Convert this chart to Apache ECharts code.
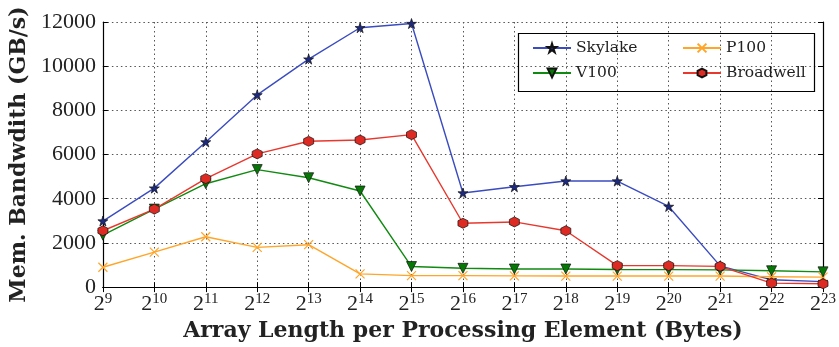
<!DOCTYPE html>
<html>
<head>
<meta charset="utf-8">
<script src="https://cdn.jsdelivr.net/npm/echarts@6/dist/echarts.min.js"></script>
<style>html,body{margin:0;padding:0;background:#fff;}#c{width:839px;height:347px;}
.pre{position:absolute;left:-9999px;top:0;}</style>
</head>
<body>
<span class="pre" style="font-family:'DejaVu Serif';font-size:16px">Skylake V100 P100 Broadwell</span>
<span class="pre" style="font-family:'DejaVu Serif';font-weight:bold;font-size:22px">Array Mem</span>
<span class="pre" style="font-family:'Liberation Serif';font-size:22px">0123456789</span>
<div id="c"></div>
<script>
const exponents = ['9','10','11','12','13','14','15','16','17','18','19','20','21','22','23'];
const skylake   = [2990, 4480, 6570, 8700, 10320, 11740, 11930, 4260, 4540, 4800, 4800, 3650, 960, 330, 250];
const v100      = [2350, 3530, 4680, 5320, 4950, 4350, 930, 850, 820, 820, 800, 790, 780, 740, 690];
const p100      = [900, 1580, 2280, 1800, 1920, 600, 520, 520, 510, 500, 500, 500, 500, 470, 450];
const broadwell = [2550, 3530, 4910, 6030, 6600, 6660, 6900, 2890, 2950, 2550, 970, 970, 940, 180, 150];
const yTicks = { min: 0, max: 12000, interval: 2000 };

const FONT = 'Liberation Serif';
const TFONT = 'DejaVu Serif';
const STAR = 'path://M50,0 L61.8,35 L98,35 L68.5,57 L79.4,92 L50,70 L20.6,92 L31.5,57 L2,35 L38.2,35 Z';
const HEX = 'path://M50,0 L93.3,25 L93.3,75 L50,100 L6.7,75 L6.7,25 Z';
const XMARK = 'path://M0,0 L10,10 M10,0 L0,10';

const chart = echarts.init(document.getElementById('c'), null, {renderer: 'canvas'});

function mk(name, data, lineColor, markColor, symbol, size, extra) {
  return Object.assign({
    name: name, type: 'line', data: data, xAxisIndex: 0, yAxisIndex: 0,
    symbol: symbol, symbolSize: size, showAllSymbol: true,
    lineStyle: {color: lineColor, width: 1.4},
    itemStyle: {color: markColor, borderColor: '#111', borderWidth: 0.7},
    emphasis: {disabled: true}, animation: false, z: 3
  }, extra || {});
}

const legendText = {fontFamily: TFONT, fontSize: 15.5, color: '#222'};

const option = {
  backgroundColor: '#fff',
  animation: false,
  textStyle: {fontFamily: FONT},
  grid: {left: 98, right: 16, top: 22, bottom: 59, show: false},
  legend: [
    {
      data: ['Skylake', 'V100'], orient: 'vertical', left: 527, top: 35,
      itemWidth: 38, itemHeight: 11, itemGap: 9,
      textStyle: legendText
    },
    {
      data: ['P100', 'Broadwell'], orient: 'vertical', left: 677, top: 35,
      itemWidth: 38, itemHeight: 11, itemGap: 9,
      textStyle: legendText
    }
  ],
  graphic: [{
    type: 'rect', left: 516, top: 31, z: 100, silent: true,
    shape: {width: 296, height: 58},
    style: {fill: 'none', stroke: '#000', lineWidth: 1.2}
  }],
  xAxis: [
    {
      type: 'category', data: exponents, boundaryGap: false,
      name: 'Array Length per Processing Element (Bytes)', nameLocation: 'middle', nameGap: 31,
      nameTextStyle: {fontFamily: TFONT, fontWeight: 'bold', fontSize: 22, color: '#222'},
      axisLine: {lineStyle: {color: '#000', width: 1.2}},
      axisTick: {inside: true, length: 5, alignWithLabel: true, lineStyle: {color: '#000'}},
      axisLabel: {
        margin: 4, interval: 0,
        formatter: v => '{b|2}{s|' + v + '}',
        rich: {
          b: {fontFamily: FONT, fontSize: 22, color: '#222'},
          s: {fontFamily: FONT, fontSize: 15, color: '#222', padding: [0, 0, 11, 0]}
        }
      },
      splitLine: {show: true, lineStyle: {color: '#555', type: [1.5, 3], width: 1}}
    },
    {
      type: 'category', data: exponents, boundaryGap: false, position: 'top',
      axisLine: {lineStyle: {color: '#000', width: 1.2}},
      axisTick: {inside: true, length: 5, alignWithLabel: true, lineStyle: {color: '#000'}},
      axisLabel: {show: false}, splitLine: {show: false}
    }
  ],
  yAxis: [
    {
      type: 'value', min: yTicks.min, max: yTicks.max, interval: yTicks.interval,
      name: 'Mem. Bandwdith (GB/s)', nameLocation: 'middle', nameGap: 65, nameRotate: 90,
      nameTextStyle: {fontFamily: TFONT, fontWeight: 'bold', fontSize: 22, color: '#222'},
      axisLine: {show: true, lineStyle: {color: '#000', width: 1.2}},
      axisTick: {show: true, inside: true, length: 5, lineStyle: {color: '#000'}},
      axisLabel: {fontFamily: FONT, fontSize: 22, color: '#222', margin: 7, formatter: v => String(v)},
      splitLine: {show: true, lineStyle: {color: '#555', type: [1.5, 3], width: 1}}
    },
    {
      type: 'value', min: yTicks.min, max: yTicks.max, interval: yTicks.interval, position: 'right',
      axisLine: {show: true, lineStyle: {color: '#000', width: 1.2}},
      axisTick: {show: true, inside: true, length: 5, lineStyle: {color: '#000'}},
      axisLabel: {show: false}, splitLine: {show: false}
    }
  ],
  series: [
    mk('Skylake', skylake, '#3a4cc0', '#1d2a80', STAR, 10),
    mk('P100', p100, '#ffa52a', '#ffa52a', XMARK, 9, {itemStyle: {color: 'rgba(0,0,0,0)', borderColor: '#ffa52a', borderWidth: 1.2}}),
    mk('V100', v100, '#108a10', '#067806', 'triangle', 10, {symbolRotate: 180}),
    mk('Broadwell', broadwell, '#e8382e', '#dd2a22', HEX, 10)
  ]
};
chart.setOption(option);
if (document.fonts && document.fonts.load) {
  Promise.all([
    document.fonts.load('16px "DejaVu Serif"'),
    document.fonts.load('bold 22px "DejaVu Serif"'),
    document.fonts.load('22px "Liberation Serif"')
  ]).then(() => { chart.clear(); chart.setOption(option); }).catch(() => {});
}
</script>
</body>
</html>
